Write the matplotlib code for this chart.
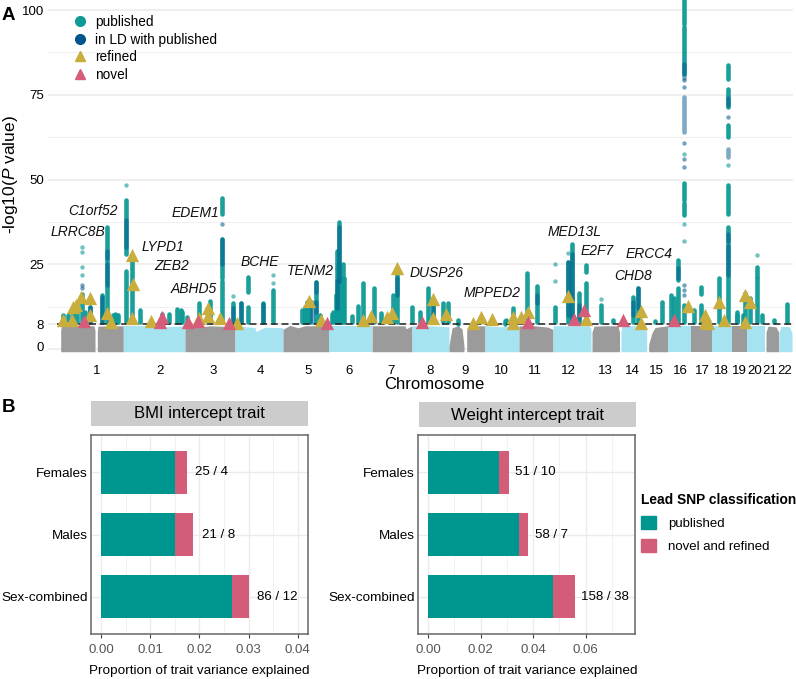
#import drawing modules
import matplotlib
matplotlib.use('Agg')
import matplotlib.pyplot as plt
from matplotlib.lines import Line2D
from matplotlib.patches import Patch
from matplotlib.transforms import ScaledTranslation

plt.rcParams['font.family'] = ['Liberation Sans', 'DejaVu Sans']
plt.rcParams['mathtext.fontset'] = 'custom'
plt.rcParams['mathtext.it'] = 'Liberation Sans:italic'
plt.rcParams['mathtext.rm'] = 'Liberation Sans'

TEAL = '#0e9a96'
NAVY = '#00568c'
GOLD = '#c9ae3d'
PINK = '#d65d7a'
BAR_TEAL = '#009690'
BAR_PINK = '#d35c78'
GREY_BAND = '#9b9b9b'
BLUE_BAND = '#a6e3f0'

# ---- panel A data, position along the genome ----
chrom_labels = [str(i) for i in range(1, 23)]
chrom_ticks = [36.5, 99.7, 152.7, 200, 248, 289, 331, 370, 404.7, 441, 475, 508.7,
               545, 572, 596, 620, 642, 661, 679, 695, 710, 725]

# chromosome arms of the non significant band: edge positions and band height
band_x = [[0.7, 1.5, 34, 35], [37.3, 38, 62, 63.3], [63.3, 90, 105, 125], [125, 135, 150, 175],
          [175, 195, 196, 205, 223], [223, 230, 238, 245, 269], [269, 290, 312], [312, 345, 346, 352],
          [352, 370, 389], [389, 392, 398, 402, 404], [406.7, 409, 415, 425],
          [425, 440, 459], [459, 475, 488, 493], [493, 510, 529, 531], [532, 534, 545, 558, 559.5],
          [561, 562, 585, 586.7], [588.7, 592, 595, 608], [608, 620, 631], [631, 640, 652],
          [652, 660, 672], [672, 680, 686.7], [686.7, 695, 705.3], [706, 708, 716, 718.7],
          [719, 721, 729, 732]]
band_top = [[5.5, 6.9, 6.9, 5.5], [5.5, 6.8, 6.9, 6.9], [7.0, 6.9, 6.6, 6.9], [6.9, 6.4, 6.9, 6.6],
            [6.9, 6.4, 5.2, 6.5, 6.3], [5.9, 7.0, 6.3, 6.9, 6.9], [6.9, 6.9, 6.9], [6.9, 6.9, 6.0, 6.9],
            [6.9, 6.9, 6.6], [1, 6.3, 6.9, 6.0, 1], [5.5, 6.6, 6.9, 6.9],
            [6.9, 6.6, 6.9], [6.9, 6.9, 6.5, 5.8], [6.9, 6.9, 6.9, 6.0], [5, 6.8, 6.9, 6.9, 5],
            [5, 6.9, 6.9, 5], [1.5, 4.8, 6.4, 6.9], [6.9, 6.9, 6.9], [6.9, 6.9, 6.9],
            [6.9, 6.9, 6.9], [6.9, 6.9, 6.9], [6.9, 6.9, 6.9], [5, 6.8, 6.6, 5],
            [5, 6.7, 6.7, 5]]
band_chrom = [1, 1, 2, 3, 4, 5, 6, 7, 8, 9, 9, 10, 11, 12, 13, 14, 15, 16, 17, 18, 19, 20, 21, 22]

# significant columns, published
teal_x = [3, 8.3, 13.3, 17.3, 21.7, 47.3, 53.3, 56.7, 65.7, 65.7, 72, 80, 109, 117.3, 121.7,
          139.3, 150, 162.3, 162.3, 162.3, 173.3, 188, 188, 213.3, 241.7, 245, 248.3, 256, 260,
          271.7, 276, 277.3, 279.3, 281.7, 284.3, 291.7, 298.3, 303.3, 314.3, 332.7, 337.3,
          351.7, 360, 368.3, 383.3, 387.7, 398.3, 420, 446, 452.7, 467.3, 477.3, 495, 507.7,
          511.7, 519, 526, 526, 541.3, 553.3, 572.7, 577.7, 595, 601.7, 610.7, 614, 618, 618,
          624, 624, 624, 624, 624, 633.7, 640.7, 640.7, 659.3, 668.3, 668.3, 668.3, 668.3, 668.3,
          668.3, 676.7, 683.3, 685, 690, 697.3, 697.3, 701.7, 714, 727.3,
          25, 30, 41.7, 55, 58.3, 101.7, 120.7, 126.7, 181, 203.3, 246.7, 250, 273.3, 278.3, 283.3,
          320.7, 372.7, 445, 677]
teal_lo = [8, 8, 8, 8, 8, 8, 8, 8, 8, 28, 8, 8, 8, 8, 8,
           8, 8, 8, 21, 40, 8, 8, 17, 8, 8, 8, 8, 8, 8,
           8, 8, 8, 8, 8, 8, 8, 8, 8, 8, 8, 8,
           8, 8, 8, 8, 8, 7.5, 8, 8, 8, 8, 8, 8, 8,
           8, 8, 8, 22.8, 8, 8, 8, 8, 8, 8, 8, 8, 8, 20.4,
           8, 81, 96, 44, 39.5, 8, 8, 16.4, 8, 8, 31, 40, 62.5, 71.4,
           79.6, 8, 8, 8, 8, 8, 21.3, 8, 8, 8,
           8, 8, 8, 8, 8, 8, 8, 8, 8, 8, 8, 8, 8, 8, 8,
           8, 8, 7.5, 8]
teal_hi = [10.2, 10, 11.5, 13, 16.4, 36, 10, 10, 23, 44, 26.5, 11.5, 10.5, 11.8, 11,
           13.5, 14.2, 20, 32.4, 44.5, 13.5, 12.5, 21.4, 17.4, 11.5, 12.5, 13, 19.9, 10,
           10.5, 16, 29, 37.6, 21, 21, 9.8, 12.8, 19.4, 18, 16, 24,
           12.5, 11, 18, 13.5, 13.7, 8.6, 9, 8.5, 12, 22.4, 18.6, 12.5, 25.8,
           31, 16.6, 19.4, 24.8, 13, 8.5, 15.5, 18, 8.2, 14, 16, 15, 18, 26.3,
           13, 95, 103, 49, 43, 11.5, 13, 18.4, 20.9, 30.3, 36, 48.4, 66, 76.7,
           83.8, 10, 10, 16.5, 15, 20.9, 24.3, 10, 8.7, 13.3,
           11, 12.5, 16, 10.3, 10, 10.5, 11.5, 9.5, 13.7, 13.5, 14, 13, 11, 25, 25,
           10.6, 15, 8.2, 11]

# stretches of the columns that are mostly in LD with published
navy_x = [30, 41.7, 47.3, 47.3, 65.7, 162.3, 173.3, 181.3, 203, 251.7, 256, 256, 279.3, 277.3,
          337.3, 373.3, 477.3, 507.7, 511.7, 518.9, 577.7, 572.7, 618, 624, 624, 668.3, 668.3, 668.3, 668.3]
navy_lo = [8, 8, 19, 27, 30, 25, 8, 8, 8, 8, 11, 17, 20, 12, 16, 8, 13.5, 10, 9, 9, 12, 10, 21, 64, 80,
           22, 32, 56.7, 72]
navy_hi = [12.5, 15.5, 25, 29, 38, 32.4, 12, 13.5, 13.3, 14, 14, 19.9, 36, 20, 21, 14, 16, 25.8, 28, 13,
           18, 14, 24, 74.4, 84, 30.3, 34, 59, 74]

# lone points
teal_dot_x = [21.7, 21.7, 21.7, 21.7, 65.7, 213.3, 213.3, 173.3, 495, 495, 507.7, 541.3, 624, 624, 624, 668.3, 697.3]
teal_dot_y = [30, 28.7, 24.3, 22, 48.4, 19.4, 21.9, 15.7, 25, 20.2, 28.4, 14.7, 37, 31.9, 57.5, 54.3, 27.8]
navy_dot_x = [21.7, 21.7, 162.3, 624, 624, 624, 624, 624, 624, 624, 624, 668.3]
navy_dot_y = [19, 18, 37, 79.4, 77.3, 60.8, 56, 53.8, 18.9, 17.5, 16, 68.4]

refined_x = [2.7, 11.7, 12.7, 16, 20.7, 30, 30, 46.7, 50.7, 72, 72.7, 72, 90.7, 139.3, 148.3, 148.3,
             160, 177.3, 249.3, 260.7, 302.7, 311, 326.7, 331.7, 336.7,
             373.3, 373.3, 386, 412.7, 420.7, 432, 452.7, 452.7, 460.7, 468.3, 507.7, 526,
             580.7, 580.7, 627.7, 645, 645, 648.3, 659.3, 664, 685, 690, 685]
refined_y = [8.6, 8.6, 12.5, 13, 15.5, 15, 10.1, 10.8, 8.1, 27.8, 19.2, 9.1, 8.2, 9.3, 12, 9.8,
             9.3, 7.8, 14.3, 8.6, 8.6, 9.8, 9.4, 10.6, 23.8,
             14.7, 9.1, 10.4, 7.6, 9.6, 8.8, 9.4, 7.6, 9.6, 10.9, 15.7, 8.8,
             11.3, 7.6, 12.7, 10.1, 8.1, 7.6, 13.8, 8.6, 16, 14, 8.1]
novel_x = [24, 100, 102.3, 128.3, 138, 168.7, 266.7, 361.7, 468.3, 514, 524, 562.7, 614]
novel_y = [8.4, 8.1, 9.4, 7.9, 8.3, 7.6, 7.8, 8.1, 8.1, 8.8, 11.7, 8.6, 8.6]

gene_names = ['C1orf52', 'LRRC8B', 'LYPD1', 'ZEB2', 'ABHD5', 'EDEM1', 'BCHE', 'TENM2',
              'DUSP26', 'MPPED2', 'MED13L', 'E2F7', 'ERCC4', 'CHD8']
gene_x = [32.8, 17.5, 103.3, 112, 133.5, 135.8, 199.8, 250.3, 376.3, 431.7, 515, 537.5, 589.5, 572.8]
gene_y = [40.7, 34.6, 30.2, 24.5, 17.7, 40.1, 25.6, 23.1, 22.5, 16.7, 34.5, 29, 28, 21.6]

threshold = 7.3

# ---- panel B data ----
groups = ['Sex-combined', 'Males', 'Females']
bmi_published = [0.02665, 0.0151, 0.01505]
bmi_total = [0.03, 0.01878, 0.01743]
bmi_counts = ['86 / 12', '21 / 8', '25 / 4']
weight_published = [0.04744, 0.03475, 0.02714]
weight_total = [0.0558, 0.03805, 0.0308]
weight_counts = ['158 / 38', '58 / 7', '51 / 10']

W, H = 796, 679
fig = plt.figure(figsize=(W / 100, H / 100), dpi=100)


def axes_px(left, top, right, bottom):
    return fig.add_axes([left / W, 1 - bottom / H, (right - left) / W, (bottom - top) / H])


# ---- panel A ----
ax = axes_px(48, 0, 793, 352)
ax.set_xlim(-12, 733)
ax.set_ylim(-0.83, 102.95)
for s in ax.spines.values():
    s.set_visible(False)

ax.set_yticks([0, threshold, 25, 50, 75, 100])
ax.set_yticklabels(['0', '8', '25', '50', '75', '100'], fontsize=9.5)
ax.set_yticks([12.5, 37.5, 62.5, 87.5], minor=True)
ax.set_xticks(chrom_ticks)
ax.set_xticklabels(chrom_labels, fontsize=9.5)
ax.tick_params(axis='both', which='both', length=0)
ax.tick_params(axis='x', pad=9)
ax.tick_params(axis='y', pad=3)
ax.grid(axis='y', which='major', color='#ebebeb', lw=1.1)
ax.grid(axis='y', which='minor', color='#f0f0f0', lw=0.7)
ax.set_axisbelow(True)
# the 0 sits a little above its grid line in the original
lab0 = ax.get_yticklabels()[0]
lab0.set_transform(lab0.get_transform() + ScaledTranslation(0, 3 / 100, fig.dpi_scale_trans))

for xs, top, chrom in zip(band_x, band_top, band_chrom):
    col = GREY_BAND if chrom % 2 == 1 else BLUE_BAND
    ax.fill_between(xs, -0.75, top, color=col, lw=0, zorder=2)

ax.vlines(teal_x, teal_lo, teal_hi, color=TEAL, lw=3.3, alpha=0.95, capstyle='round', zorder=3)
ax.vlines(navy_x, navy_lo, navy_hi, color=NAVY, lw=3.3, alpha=0.5, capstyle='round', zorder=4)
ax.scatter(teal_dot_x, teal_dot_y, s=10, color=TEAL, alpha=0.6, lw=0, zorder=4)
ax.scatter(navy_dot_x, navy_dot_y, s=10, color=NAVY, alpha=0.55, lw=0, zorder=4)

ax.plot([-3, 733], [threshold, threshold], color='#222222', lw=1.1, dashes=(4.5, 2.5), zorder=5)

ax.scatter(refined_x, refined_y, marker='^', s=92, color=GOLD, lw=0, zorder=6)
ax.scatter(novel_x, novel_y, marker='^', s=92, color=PINK, lw=0, zorder=7)

for name, x, y in zip(gene_names, gene_x, gene_y):
    ax.text(x, y, name, style='italic', fontsize=10, ha='center', va='center', color='#111111', zorder=8)

ax.set_xlabel('Chromosome', fontsize=12, labelpad=0, x=0.518)
fig.text(11 / W, 1 - 175 / H, '-log10($\\mathit{P}$ value)', rotation=90, fontsize=12.5,
         ha='center', va='center')

handles = [
    Line2D([], [], marker='o', ls='', ms=7, color=TEAL, label='published'),
    Line2D([], [], marker='o', ls='', ms=7, color=NAVY, label='in LD with published'),
    Line2D([], [], marker='^', ls='', ms=7, color=GOLD, label='refined'),
    Line2D([], [], marker='^', ls='', ms=7, color=PINK, label='novel'),
]
ax.legend(handles=handles, loc='upper left', bbox_to_anchor=(72 / W, 1 - 15 / H), frameon=False,
          bbox_transform=fig.transFigure, fontsize=9.8, labelspacing=0.26, handletextpad=0.5,
          handlelength=1.2, borderpad=0, borderaxespad=0)

fig.text(2 / W, 1 - 15 / H, 'A', fontsize=13.5, fontweight='bold', va='center')
fig.text(2 / W, 1 - 408 / H, 'B', fontsize=13.5, fontweight='bold', va='center')


# ---- panel B ----
def bar_panel(rect, strip, title, published, total, counts, xlim, ticks, minor, label_gap):
    a = axes_px(*rect)
    a.barh(groups, published, height=0.7, color=BAR_TEAL, zorder=3)
    a.barh(groups, [t - p for t, p in zip(total, published)], left=published, height=0.7,
           color=BAR_PINK, zorder=3)
    for i, (t, c) in enumerate(zip(total, counts)):
        a.text(t + label_gap, i, c, fontsize=9.5, va='center', ha='left', zorder=4)
    a.set_xlim(*xlim)
    a.set_ylim(-0.6, 2.6)
    a.set_xticks(ticks)
    a.set_xticklabels(['%.2f' % t for t in ticks], fontsize=9.5, color='#555555')
    a.set_xticks(minor, minor=True)
    a.tick_params(axis='x', which='major', length=3, color='#444444', width=0.8, pad=4.5)
    a.tick_params(axis='x', which='minor', length=0)
    a.tick_params(axis='y', length=0, labelsize=9.7, pad=2.6)
    a.grid(axis='both', which='major', color='#ebebeb', lw=1)
    a.grid(axis='x', which='minor', color='#f2f2f2', lw=0.7)
    a.set_axisbelow(True)
    for s in a.spines.values():
        s.set_color('#666666')
        s.set_linewidth(1.1)
    a.set_xlabel('Proportion of trait variance explained', fontsize=9.7, labelpad=6)

    st = axes_px(*strip)
    st.set_facecolor('#cccccc')
    st.set_xticks([])
    st.set_yticks([])
    for s in st.spines.values():
        s.set_visible(False)
    st.text(0.5, 0.47, title, fontsize=12, ha='center', va='center', transform=st.transAxes)
    return a


bar_panel((91.3, 435, 308, 634), (91.3, 400.7, 308, 425.7), 'BMI intercept trait',
          bmi_published, bmi_total, bmi_counts, (-0.00197, 0.0421),
          [0, 0.01, 0.02, 0.03, 0.04], [0.005, 0.015, 0.025, 0.035], 0.0017)
ax2 = bar_panel((418.3, 435, 635.3, 634), (419, 402.3, 635.7, 427), 'Weight intercept trait',
                weight_published, weight_total, weight_counts, (-0.00369, 0.0789),
                [0, 0.02, 0.04, 0.06], [0.01, 0.03, 0.05, 0.07], 0.0025)

class_handles = [Patch(color=BAR_TEAL, label='published'), Patch(color=BAR_PINK, label='novel and refined')]
ax2.legend(handles=class_handles, title='Lead SNP classification', loc='upper left',
           bbox_to_anchor=(641 / W, 1 - 492.5 / H), bbox_transform=fig.transFigure, frameon=False,
           fontsize=9.5, alignment='left', title_fontproperties={'weight': 'bold', 'size': 9.9},
           handlelength=1.1, handleheight=1.1, labelspacing=0.72, handletextpad=0.95,
           borderpad=0, borderaxespad=0)

fig.savefig('out.png', dpi=100)
